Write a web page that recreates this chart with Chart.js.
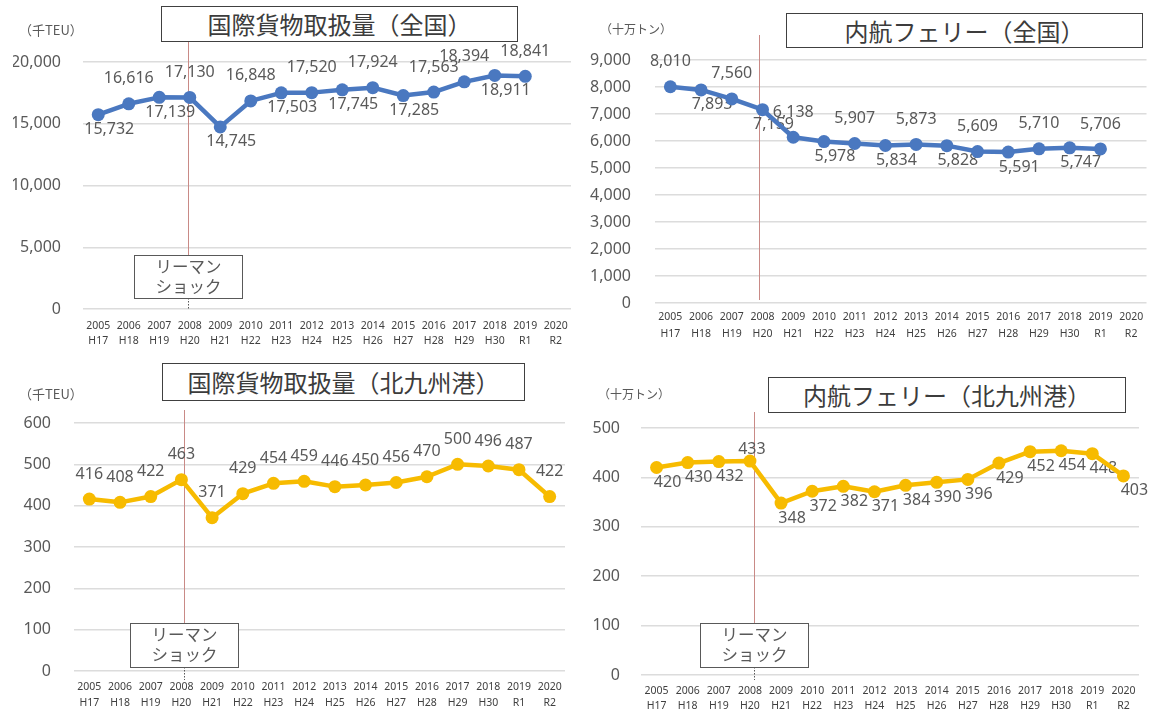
<!DOCTYPE html>
<html lang="ja">
<head>
<meta charset="utf-8">
<script src="https://cdn.jsdelivr.net/npm/chart.js@4.4.1/dist/chart.umd.min.js"></script>
<style>
  html, body { margin: 0; padding: 0; background: #fff; }
  #wrap { position: relative; width: 1153px; height: 713px; overflow: hidden; font-family: 'Noto Sans CJK JP', 'Noto Sans', sans-serif; }
  #wrap canvas { position: absolute; left: 0; top: 0; }
  .title { position: absolute; box-sizing: border-box; border: 1px solid #404040; background: #fff; color: #3c3c3c; font-size: 24px; text-align: center; white-space: nowrap; }
  .unit { position: absolute; color: #595959; white-space: nowrap; }
</style>
</head>
<body>
<div id="wrap">
  <canvas id="c-teu-japan" width="1153" height="713"></canvas>
  <canvas id="c-ferry-japan" width="1153" height="713"></canvas>
  <canvas id="c-teu-kita" width="1153" height="713"></canvas>
  <canvas id="c-ferry-kita" width="1153" height="713"></canvas>

  <div class="title" style="left:161px;top:6px;width:357px;height:36px;line-height:34px;">国際貨物取扱量（全国）</div>
  <div class="title" style="left:786px;top:13px;width:357px;height:35px;line-height:33px;">内航フェリー（全国）</div>
  <div class="title" style="left:162px;top:363px;width:363px;height:38px;line-height:36px;">国際貨物取扱量（北九州港）</div>
  <div class="title" style="left:768px;top:377px;width:358px;height:36px;line-height:34px;">内航フェリー（北九州港）</div>

  <div class="unit" style="left:19px;top:20px;font-size:13px;">（千TEU）</div>
  <div class="unit" style="left:600px;top:20px;font-size:12px;">（十万トン）</div>
  <div class="unit" style="left:19px;top:384px;font-size:13px;">（千TEU）</div>
  <div class="unit" style="left:598px;top:385px;font-size:12px;">（十万トン）</div>
</div>
<script>
const years = ['2005','2006','2007','2008','2009','2010','2011','2012','2013','2014','2015','2016','2017','2018','2019','2020'];
const eras = ['H17','H18','H19','H20','H21','H22','H23','H24','H25','H26','H27','H28','H29','H30','R1','R2'];

// 国際貨物取扱量（全国） 千TEU, 2005-2019
const teuJapan = [15732, 16616, 17139, 17130, 14745, 16848, 17503, 17520, 17745, 17924, 17285, 17563, 18394, 18911, 18841];
// 内航フェリー（全国） 十万トン, 2005-2019
const ferryJapan = [8010, 7893, 7560, 7159, 6138, 5978, 5907, 5834, 5873, 5828, 5609, 5591, 5710, 5747, 5706];
// 国際貨物取扱量（北九州港） 千TEU, 2005-2020
const teuKita = [416, 408, 422, 463, 371, 429, 454, 459, 446, 450, 456, 470, 500, 496, 487, 422];
// 内航フェリー（北九州港） 十万トン, 2005-2020
const ferryKita = [420, 430, 432, 433, 348, 372, 382, 371, 384, 390, 396, 429, 452, 454, 448, 403];

const ticksTeuJapan = [0, 5000, 10000, 15000, 20000];
const ticksFerryJapan = [0, 1000, 2000, 3000, 4000, 5000, 6000, 7000, 8000, 9000];
const ticksTeuKita = [0, 100, 200, 300, 400, 500, 600];
const ticksFerryKita = [0, 100, 200, 300, 400, 500];

// label placement: a = above, b = below, c = just above
const posTeuJapan = 'babababababaaba'.split('');
const posFerryJapan = 'abababababababa'.split('');
const posTeuKita = 'aaaaaaaaaaaaaaaa'.split('');
const posFerryKita = 'bbbcbbbbbbbbbbbb'.split('');

const SHOCK_YEAR = '2008';
const BLUE = '#4a78c0';
const GOLD = '#f7bb00';
const W = 1153, H = 713, AXIS_W = 70;
const OFFSETS = { a: { dx: 0, dy: -25 }, b: { dx: 11, dy: 15 }, c: { dx: 2, dy: -12 } };

const shockMarker = {
  id: 'shock',
  beforeDatasetsDraw(chart, args, o) {
    const { ctx } = chart;
    const x = Math.round(chart.scales.x.getPixelForValue(years.indexOf(SHOCK_YEAR)) + o.dx) + 0.5;
    ctx.save();
    ctx.strokeStyle = '#c98a86';
    ctx.lineWidth = 1;
    ctx.beginPath();
    ctx.moveTo(x, o.lineTop);
    ctx.lineTo(x, o.lineBottom);
    ctx.stroke();
    ctx.restore();
  },
  afterDatasetsDraw(chart, args, o) {
    if (o.boxTop == null) return;
    const { ctx } = chart;
    const x = Math.round(chart.scales.x.getPixelForValue(years.indexOf(SHOCK_YEAR)) + o.dx) + 0.5;
    ctx.save();
    ctx.fillStyle = '#fff';
    ctx.strokeStyle = '#595959';
    ctx.lineWidth = 1;
    ctx.fillRect(x - 54, o.boxTop, 108, o.boxBottom - o.boxTop);
    ctx.strokeRect(x - 54, o.boxTop + 0.5, 108, o.boxBottom - o.boxTop);
    ctx.setLineDash([1.5, 1.5]);
    ctx.beginPath();
    ctx.moveTo(x, o.boxBottom);
    ctx.lineTo(x, o.tickBottom);
    ctx.stroke();
    ctx.fillStyle = '#595959';
    ctx.font = '16.5px "Noto Sans CJK JP", sans-serif';
    ctx.textAlign = 'center';
    ctx.textBaseline = 'middle';
    ctx.fillText('リーマン', x, o.boxTop + 12);
    ctx.fillText('ショック', x, o.boxTop + 32);
    ctx.restore();
  }
};

const pointLabels = {
  id: 'pointLabels',
  beforeDatasetsDraw(chart, args, o) {
    const { ctx } = chart;
    const meta = chart.getDatasetMeta(0);
    const vals = chart.data.datasets[0].data;
    ctx.save();
    ctx.font = '16px "Noto Sans", sans-serif';
    ctx.fillStyle = '#595959';
    ctx.textAlign = 'center';
    ctx.textBaseline = 'middle';
    meta.data.forEach((pt, i) => {
      const off = OFFSETS[o.pos[i]];
      ctx.fillText(vals[i].toLocaleString('en-US'), pt.x + off.dx, pt.y + off.dy);
    });
    ctx.restore();
  }
};

function makeChart(id, c) {
  const a = c.area;
  const max = c.ticks[c.ticks.length - 1];
  const axisH = Math.min(46, H - a.b);
  return new Chart(document.getElementById(id), {
    type: 'line',
    data: {
      labels: years.map((y, i) => [y, eras[i]]),
      datasets: [{
        data: c.values,
        borderColor: c.color,
        backgroundColor: c.color,
        borderWidth: 4.5,
        pointRadius: 6.5,
        pointHoverRadius: 6.5,
        pointBorderWidth: 0,
        tension: 0,
        borderJoinStyle: 'round',
        clip: false,
      }],
    },
    options: {
      responsive: false,
      animation: false,
      events: [],
      layout: { padding: { left: a.l - AXIS_W, right: W - a.r, top: a.t, bottom: H - a.b - axisH } },
      plugins: {
        legend: { display: false },
        tooltip: { enabled: false },
        pointLabels: { pos: c.pos },
        shock: c.shock,
      },
      scales: {
        x: {
          offset: true,
          grid: { display: false, drawTicks: false },
          border: { display: false },
          ticks: {
            autoSkip: false, maxRotation: 0, minRotation: 0,
            padding: c.xPad, color: '#404040',
            font: { family: '"Noto Sans", sans-serif', size: 10.5, lineHeight: c.xLine + 'px' },
          },
          afterFit: s => { s.height = axisH; },
        },
        y: {
          min: 0, max,
          grid: { color: '#dcdcdc', lineWidth: 1.5, drawTicks: false },
          border: { display: false },
          ticks: {
            stepSize: c.ticks[1] - c.ticks[0],
            padding: c.yPad, color: '#595959',
            font: { family: '"Noto Sans", sans-serif', size: 16 },
          },
          afterFit: s => { s.width = AXIS_W; },
        },
      },
    },
    plugins: [shockMarker, pointLabels],
  });
}

makeChart('c-teu-japan', {
  values: teuJapan, ticks: ticksTeuJapan, pos: posTeuJapan, color: BLUE,
  area: { l: 83, r: 571, t: 62, b: 309 }, yPad: 22, xPad: 9.5, xLine: 15,
  shock: { dx: -2, lineTop: 42, lineBottom: 255, boxTop: 255, boxBottom: 298, tickBottom: 309 },
});
makeChart('c-ferry-japan', {
  values: ferryJapan, ticks: ticksFerryJapan, pos: posFerryJapan, color: BLUE,
  area: { l: 655, r: 1147, t: 60, b: 303 }, yPad: 24, xPad: 6, xLine: 17,
  shock: { dx: -4, lineTop: 35, lineBottom: 300, boxTop: null },
});
makeChart('c-teu-kita', {
  values: teuKita, ticks: ticksTeuKita, pos: posTeuKita, color: GOLD,
  area: { l: 74, r: 565, t: 423, b: 671 }, yPad: 23, xPad: 8, xLine: 16,
  shock: { dx: 3, lineTop: 410, lineBottom: 623, boxTop: 623, boxBottom: 667, tickBottom: 680 },
});
makeChart('c-ferry-kita', {
  values: ferryKita, ticks: ticksFerryKita, pos: posFerryKita, color: GOLD,
  area: { l: 641, r: 1139, t: 428, b: 675 }, yPad: 21, xPad: 9, xLine: 15,
  shock: { dx: 4, lineTop: 412, lineBottom: 623, boxTop: 623, boxBottom: 667, tickBottom: 680 },
});
</script>
</body>
</html>
